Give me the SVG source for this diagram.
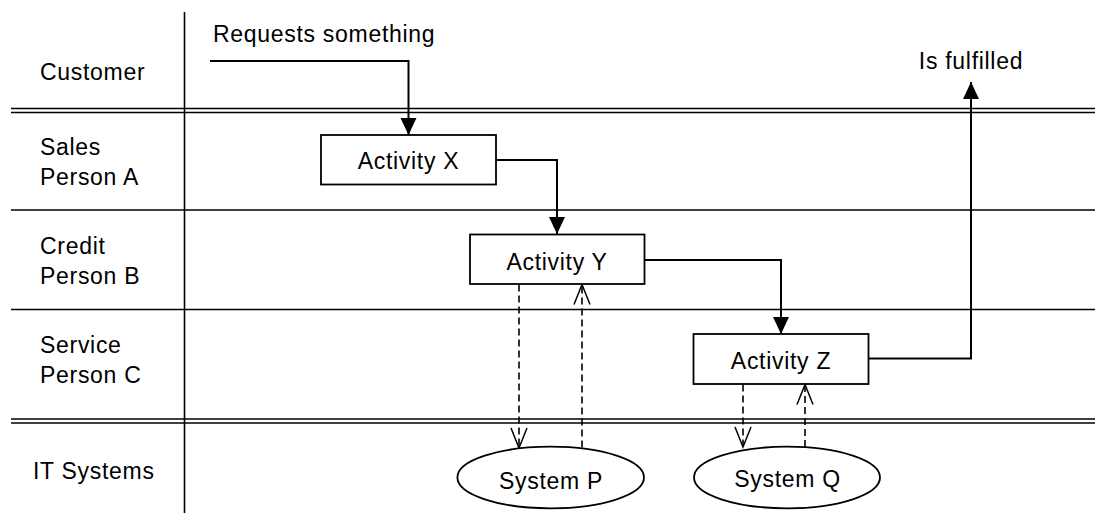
<svg xmlns="http://www.w3.org/2000/svg" width="1095" height="513" viewBox="0 0 1095 513">
  <style>
    text { font-family: "Liberation Sans", Arial, sans-serif; font-size: 23px; letter-spacing: 0.7px; fill: #000; }
    .mid { text-anchor: middle; }
    .lane { stroke: #000; stroke-width: 1.6; fill: none; }
    .box { fill: #fff; stroke: #000; stroke-width: 1.8; }
    .flow { fill: none; stroke: #000; stroke-width: 2; }
    .dash { fill: none; stroke: #000; stroke-width: 1.6; stroke-dasharray: 7 4; }
  </style>
  <defs>
    <marker id="solid" markerUnits="userSpaceOnUse" markerWidth="17" markerHeight="16" refX="17" refY="8" orient="auto" overflow="visible">
      <path d="M0,0 L17,8 L0,16 z" fill="#000"/>
    </marker>
    <marker id="open" markerUnits="userSpaceOnUse" markerWidth="22" markerHeight="18" refX="20" refY="8" orient="auto" overflow="visible">
      <path d="M0,0 L20,8 L0,16" fill="none" stroke="#000" stroke-width="1.5"/>
    </marker>
  </defs>
  <rect width="1095" height="513" fill="#fff"/>

  <g id="lanes">
    <line class="lane" x1="184.5" y1="12" x2="184.5" y2="513"/>
    <line class="lane" x1="11" y1="108.5" x2="1095" y2="108.5" stroke-width="1.3"/>
    <line class="lane" x1="11" y1="112.5" x2="1095" y2="112.5" stroke-width="1.3"/>
    <line class="lane" x1="11" y1="210" x2="1095" y2="210"/>
    <line class="lane" x1="11" y1="309.5" x2="1095" y2="309.5"/>
    <line class="lane" x1="11" y1="419" x2="1095" y2="419" stroke-width="1.3"/>
    <line class="lane" x1="11" y1="423" x2="1095" y2="423" stroke-width="1.3"/>
  </g>

  <g id="lane-labels">
    <text x="40" y="80">Customer</text>
    <text x="40" y="155">Sales</text>
    <text x="40" y="185">Person A</text>
    <text x="40" y="253.5">Credit</text>
    <text x="40" y="283.5">Person B</text>
    <text x="40" y="352.5">Service</text>
    <text x="40" y="382.5">Person C</text>
    <text x="33" y="478.5">IT Systems</text>
  </g>

  <g id="connectors">
    <path class="flow" d="M210,61 H408.5 V135" marker-end="url(#solid)"/>
    <path class="flow" d="M496,160 H557 V234" marker-end="url(#solid)"/>
    <path class="flow" d="M644.5,260 H781 V334" marker-end="url(#solid)"/>
    <path class="flow" d="M868.5,358.5 H971 V82" marker-end="url(#solid)"/>
    <path class="dash" d="M519,284.5 V448" marker-end="url(#open)"/>
    <path class="dash" d="M582,447.5 V284.5" marker-end="url(#open)"/>
    <path class="dash" d="M743,384.5 V447" marker-end="url(#open)"/>
    <path class="dash" d="M805,447 V384.5" marker-end="url(#open)"/>
  </g>

  <g id="requests-label">
    <text x="213" y="42">Requests something</text>
  </g>
  <g id="fulfilled-label">
    <text class="mid" x="971" y="68.5">Is fulfilled</text>
  </g>

  <g id="activity-x">
    <rect class="box" x="321" y="135" width="175" height="49.5"/>
    <text class="mid" x="408.5" y="168.5">Activity X</text>
  </g>
  <g id="activity-y">
    <rect class="box" x="470" y="234.5" width="174.5" height="49.5"/>
    <text class="mid" x="557" y="270">Activity Y</text>
  </g>
  <g id="activity-z">
    <rect class="box" x="693.5" y="334" width="175" height="50"/>
    <text class="mid" x="781" y="368.5">Activity Z</text>
  </g>
  <g id="system-p">
    <ellipse class="box" cx="550.7" cy="477.5" rx="93.3" ry="30.8" stroke-width="1.5"/>
    <text class="mid" x="551" y="488.5">System P</text>
  </g>
  <g id="system-q">
    <ellipse class="box" cx="787" cy="477.5" rx="93" ry="30.8" stroke-width="1.5"/>
    <text class="mid" x="787.5" y="487">System Q</text>
  </g>
</svg>
